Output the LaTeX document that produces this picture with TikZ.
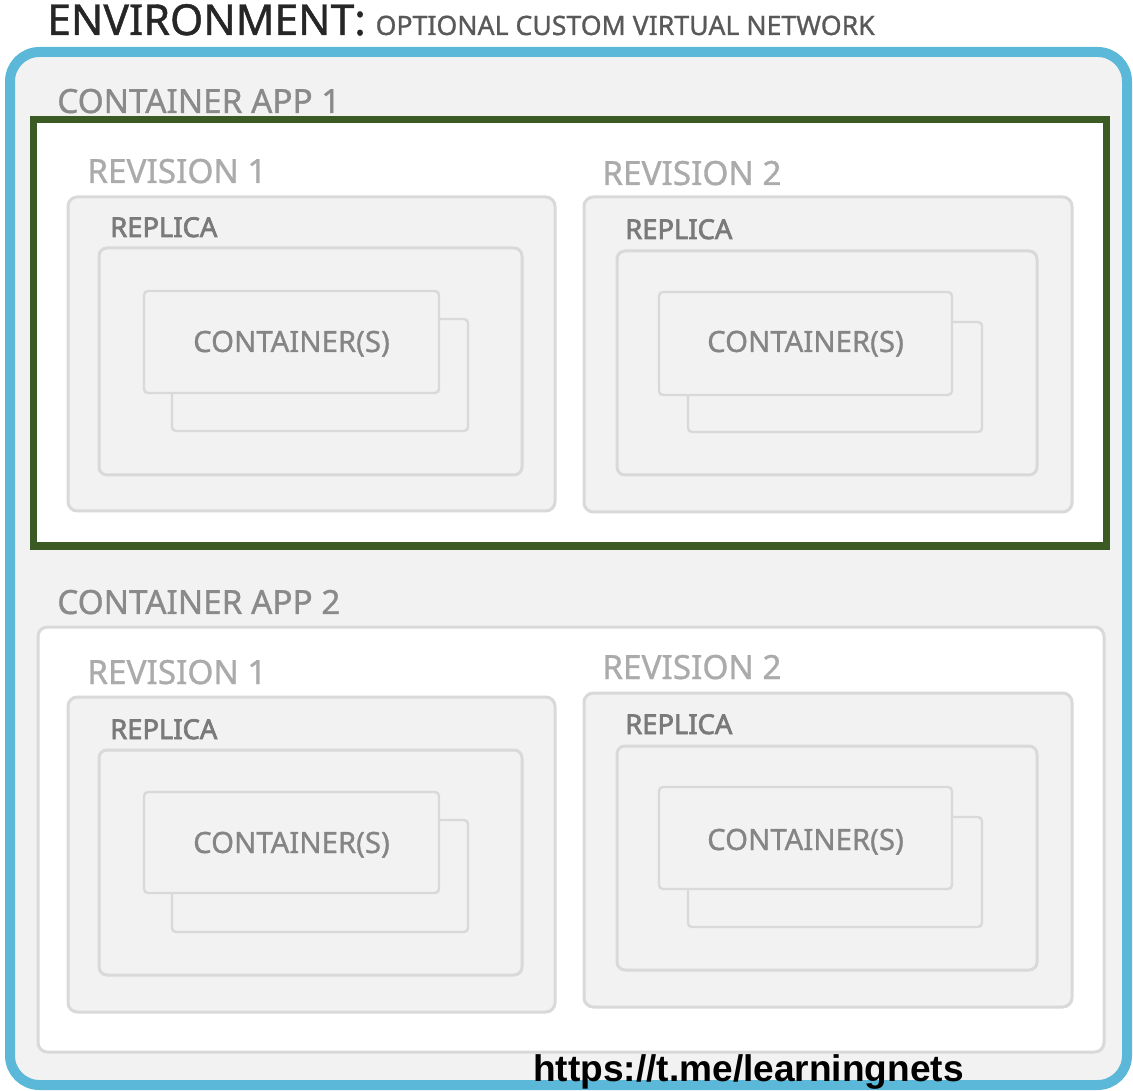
\documentclass[tikz,border=0pt]{standalone}
\usepackage{fontspec}
\setmainfont{Noto Sans}
\newfontfamily\midfont{Noto Sans}[FakeBold=1.0]
\newfontfamily\semifont{Noto Sans}[FakeBold=2.6]
\newfontfamily\urlfont{Liberation Sans}
\usepackage{tikz}
\usetikzlibrary{
    positioning,
    calc
}
\usepackage{xcolor}
\definecolor{envblue}{HTML}{5BB8D8}
\definecolor{appgreen}{HTML}{3B5A24}
\definecolor{boxfill}{HTML}{F2F2F2}
\definecolor{boxline}{HTML}{D9D9D9}
\definecolor{envtext}{HTML}{262626}
\definecolor{nettext}{HTML}{595959}
\definecolor{apptext}{HTML}{8A8A8A}
\definecolor{revtext}{HTML}{ABABAB}
\definecolor{reptext}{HTML}{7A7A7A}
\definecolor{ctrtext}{HTML}{858585}

\begin{document}
\begin{tikzpicture}[x=0.75pt, y=-0.75pt,
        envbox/.style={draw=envblue, line width=7.5pt, fill=boxfill, rounded corners=22pt},
        appbox/.style={draw=boxline, line width=2.25pt, fill=white, rounded corners=7pt},
        selbox/.style={draw=appgreen, line width=5.25pt, fill=white},
        revbox/.style={draw=boxline, line width=2.25pt, fill=boxfill, rounded corners=7pt},
        repbox/.style={draw=boxline, line width=2.25pt, fill=boxfill, rounded corners=6pt},
        ctrbox/.style={draw=boxline, line width=1.8pt, fill=boxfill, rounded corners=3pt},
        applabel/.style={anchor=base west, inner sep=0pt, text=apptext, font=\midfont\fontsize{25}{28}\selectfont},
        revlabel/.style={anchor=base west, inner sep=0pt, text=revtext, font=\midfont\fontsize{25}{28}\selectfont},
        replabel/.style={anchor=base west, inner sep=0pt, text=reptext, font=\semifont\fontsize{20.5}{24}\selectfont},
        ctrlabel/.style={anchor=base, inner sep=0pt, text=ctrtext, font=\midfont\fontsize{22}{25}\selectfont}
    ]
    \useasboundingbox (0,0) rectangle (1133,1091);

    % Environment frame
    \draw[envbox] (10,52) rectangle (1127,1085);
    \node[anchor=base west, inner sep=0pt, text=envtext, font=\midfont\fontsize{32}{35}\selectfont] (env) at (47,35) {ENVIRONMENT:};
    \node[inner sep=0pt, text=nettext, font=\midfont\fontsize{20}{23}\selectfont, right=7pt of env.base east, anchor=base west] (vnet) {OPTIONAL CUSTOM VIRTUAL NETWORK};

    % Container app 1 (highlighted)
    \node[applabel] (app1) at (57,113) {CONTAINER APP 1};
    \draw[selbox] (33,120) rectangle (1106,546);

    % app 1, revision 1
    \node[revlabel] (a1r1) at (87,183) {REVISION 1};
    \draw[revbox] (68,197) rectangle (555,511);
    \node[replabel] (a1r1rep) at (110,237) {REPLICA};
    \draw[repbox] (99,248) rectangle (522,475);
    \draw[ctrbox] (172,319) rectangle (468,431);
    \draw[ctrbox] (144,291) rectangle (439,393);
    \node[ctrlabel] (a1r1ctr) at (291.5,352) {CONTAINER(S)};

    % app 1, revision 2
    \node[revlabel] (a1r2) at (602,185) {REVISION 2};
    \draw[revbox] (584,197) rectangle (1072,512);
    \node[replabel] (a1r2rep) at (625,239) {REPLICA};
    \draw[repbox] (617,251) rectangle (1037,475);
    \draw[ctrbox] (688,322) rectangle (982,432);
    \draw[ctrbox] (659,292) rectangle (952,395);
    \node[ctrlabel] (a1r2ctr) at (805.5,352) {CONTAINER(S)};

    % Container app 2
    \node[applabel] (app2) at (57,614) {CONTAINER APP 2};
    \draw[appbox] (38,627) rectangle (1104,1052);

    % app 2, revision 1
    \node[revlabel] (a2r1) at (87,684) {REVISION 1};
    \draw[revbox] (68,697) rectangle (555,1012);
    \node[replabel] (a2r1rep) at (110,739) {REPLICA};
    \draw[repbox] (99,750) rectangle (522,975);
    \draw[ctrbox] (172,820) rectangle (468,932);
    \draw[ctrbox] (144,792) rectangle (439,893);
    \node[ctrlabel] (a2r1ctr) at (291.5,853) {CONTAINER(S)};

    % app 2, revision 2
    \node[revlabel] (a2r2) at (602,679) {REVISION 2};
    \draw[revbox] (584,693) rectangle (1072,1007);
    \node[replabel] (a2r2rep) at (625,734) {REPLICA};
    \draw[repbox] (617,746) rectangle (1037,970);
    \draw[ctrbox] (688,817) rectangle (982,927);
    \draw[ctrbox] (659,787) rectangle (952,889);
    \node[ctrlabel] (a2r2ctr) at (805.5,850) {CONTAINER(S)};

    % Link
    \node[anchor=base west, inner sep=0pt, font=\urlfont\bfseries\fontsize{27.8}{30}\selectfont] (link) at (533,1081) {https://t.me/learningnets};
\end{tikzpicture}
\end{document}
